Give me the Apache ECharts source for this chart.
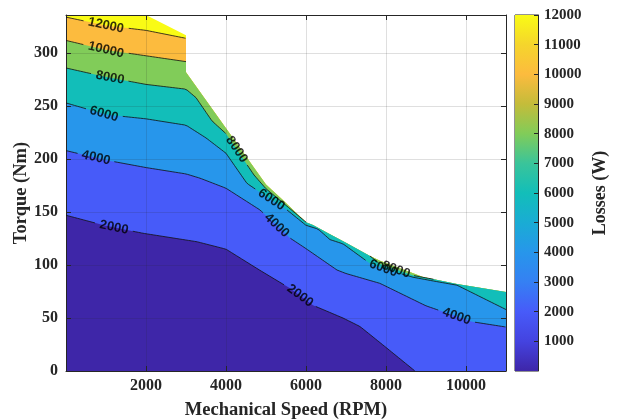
<!DOCTYPE html>
<html><head><meta charset="utf-8">
<script src="https://cdn.jsdelivr.net/npm/echarts@6/dist/echarts.min.js"></script>
<style>html,body{margin:0;padding:0;background:#fff}#c{width:621px;height:419px}</style>
</head><body><div id="c"></div>
<script>
// ---------- data ----------
const xMin = 0, xMax = 11000, xStep = 2000;
const yMin = 0, yMax = 336, yStep = 50;
const cbMin = 0, cbMax = 12000, cbStep = 1000;
const xName = 'Mechanical Speed (RPM)';
const yName = 'Torque (Nm)';
const cbName = 'Losses (W)';

// outer boundary of the data (max torque envelope)
const envelope = [[0,336],[2000,336],[3000,317],[3000,282],[4000,229],[5000,176],[5400,162],[6000,140.5],[6175,137.7],[6600,129],[7000,121],[7600,108.5],[7850,104],[8925,88.7],[9775,82],[11000,74.5]];

// contour lines (speed, torque)
const c12000 = [[0,334],[1000,326],[2000,321.5],[3000,314]];
const c10000 = [[0,312],[1000,303],[2000,297.5],[3000,292]];
const c8000a = [[0,286],[1000,277.5],[2000,270.5],[3000,266],[3250,258],[3650,236],[4000,224],[4700,185],[5000,172],[5400,159.5],[6000,140.5]];
const c8000b = [[7600,108.5],[7850,101],[8300,95],[8700,90],[9200,86.5]];
const c6000 = [[0,253],[1000,242],[2000,238],[3000,232],[3500,220],[4000,205.5],[4525,177],[5000,165],[5525,152],[6000,137.5],[6300,134],[6600,124],[6925,120],[7600,101.5],[8000,96],[8675,88.5],[9175,85],[9775,81],[11000,58]];
const c4000 = [[0,208],[1000,199],[2000,192],[3000,186],[3350,182],[4000,172.5],[4850,152],[5600,125.5],[6000,115.5],[6775,95.3],[7000,92],[7850,82.7],[9000,61.5],[10150,46.5],[11000,41.5]];
const c2000 = [[0,147],[1000,137],[1925,130],[3275,122],[4000,115],[4850,95],[5600,78],[6175,62],[6925,50],[7350,42],[7975,23],[8725,0]];

const levels = [2000, 4000, 6000, 8000, 10000, 12000];
const levelSegments = [[c2000],[c4000],[c6000],[c8000a,c8000b],[c10000],[c12000]];

// inline contour labels: level and speed position
const labelLevel = [12000,10000,8000,6000,4000,2000,8000,6000,4000,2000,6000,8000,4000];
const labelX     = [1000,1000,1100,950,750,1200,4267,5133,5267,5850,7933,8250,9767];

// ---------- styles ----------
const bandColors = ['#3e26a8','#475bf9','#2796eb','#12beb9','#81cc59','#fcbb3e','#f9fb15'];
const parulaStops = [
  [0,'#3e26a8'],[0.0833,'#4443e0'],[0.1667,'#475bf9'],[0.25,'#3580f3'],[0.3333,'#2796eb'],
  [0.4167,'#1aacd4'],[0.5,'#12beb9'],[0.5833,'#3ac49a'],[0.6667,'#81cc59'],[0.75,'#c4bc3a'],
  [0.8333,'#fcbb3e'],[0.9167,'#f5d52c'],[1,'#f9fb15']];
const axisColor = '#262626';
const serif = 'Liberation Serif';

// ---------- build fill boundaries ----------
function after(e, p){ return e[0] > p[0] || (e[0] === p[0] && e[1] < p[1]); }
function before(e, q){ return e[0] < q[0] || (e[0] === q[0] && e[1] > q[1]); }
function envSlice(p, q){ return envelope.filter(e => after(e, p) && (q == null || before(e, q))); }
function buildBoundary(segs){
  let pts = [], prev = null;
  segs.forEach(seg => {
    if (prev) pts = pts.concat(envSlice(prev, seg[0]));
    pts = pts.concat(seg);
    prev = seg[seg.length-1];
  });
  if (prev[1] <= yMin) pts.push([xMax, yMin]);
  else pts = pts.concat(envSlice(prev, null));
  return pts;
}

const chart = echarts.init(document.getElementById('c'));

function axisCommon(){
  return {
    min: xMin, max: xMax, interval: xStep, type: 'value', z: 3,
    axisLine: {show: true, onZero: false, lineStyle: {color: axisColor, width: 1}},
    axisTick: {show: true, inside: true, length: 5, lineStyle: {color: axisColor}},
  };
}

function buildOption(extraSeries){
  const fills = [];
  fills.push({type:'line', data: envelope, showSymbol:false, symbol:'none', lineStyle:{width:0},
    areaStyle:{color: bandColors[6], opacity:1}, z:2, silent:true, animation:false, xAxisIndex:0, yAxisIndex:0});
  for (let k = levels.length-1; k >= 0; k--){
    fills.push({type:'line', data: buildBoundary(levelSegments[k]), showSymbol:false, symbol:'none', lineStyle:{width:0},
      areaStyle:{color: bandColors[k], opacity:1}, z:2, silent:true, animation:false, xAxisIndex:0, yAxisIndex:0});
  }
  const cbColor = new echarts.graphic.LinearGradient(0,1,0,0, parulaStops.map(s => ({offset:s[0], color:s[1]})));
  return {
    animation: false,
    grid: [
      {left: 66, top: 15, width: 440, height: 356, containLabel: false, outerBoundsMode: 'none'},
      {left: 515, top: 15, width: 23, height: 356, show: true, borderColor: axisColor, borderWidth: 1,
        containLabel: false, outerBoundsMode: 'none'}
    ],
    xAxis: [
      Object.assign(axisCommon(), {gridIndex:0, position:'bottom',
        axisLabel:{fontFamily: serif, fontWeight:'bold', fontSize:16, color: axisColor, margin:7,
          formatter: v => (v > xMin && v % xStep === 0) ? String(v) : ''},
        splitLine:{show:true, lineStyle:{color:'rgba(38,38,38,0.15)', width:1}},
        name: xName, nameLocation:'middle', nameGap: 30,
        nameTextStyle:{fontFamily: serif, fontWeight:'bold', fontSize:18.5, color: axisColor}}),
      Object.assign(axisCommon(), {gridIndex:0, position:'top', axisLabel:{show:false}, splitLine:{show:false}}),
      {gridIndex:1, type:'category', data:[''], show:false, boundaryGap:true}
    ],
    yAxis: [
      {gridIndex:0, type:'value', min:yMin, max:yMax, interval:yStep, position:'left', z:3,
        axisLine:{show:true, onZero:false, lineStyle:{color:axisColor, width:1}},
        axisTick:{show:true, inside:true, length:5, lineStyle:{color:axisColor}},
        axisLabel:{fontFamily: serif, fontWeight:'bold', fontSize:16, color: axisColor, margin:8,
          formatter: v => (v % yStep === 0) ? String(v) : ''},
        splitLine:{show:true, lineStyle:{color:'rgba(38,38,38,0.15)', width:1}},
        name: yName, nameLocation:'middle', nameGap: 35, nameRotate: 90, nameMoveOverlap: false,
        nameTextStyle:{fontFamily: serif, fontWeight:'bold', fontSize:18.5, color: axisColor}},
      {gridIndex:0, type:'value', min:yMin, max:yMax, interval:yStep, position:'right', z:3,
        axisLine:{show:true, onZero:false, lineStyle:{color:axisColor, width:1}},
        axisTick:{show:true, inside:true, length:5, lineStyle:{color:axisColor}},
        axisLabel:{show:false}, splitLine:{show:false}},
      {gridIndex:1, type:'value', min:cbMin, max:cbMax, interval:cbStep, position:'right', z:3,
        axisLine:{show:true, lineStyle:{color:axisColor, width:1}},
        axisTick:{show:true, inside:true, length:4, lineStyle:{color:axisColor}},
        axisLabel:{fontFamily: serif, fontWeight:'bold', fontSize:15, color: axisColor, margin:6, showMinLabel:false,
          formatter: v => String(v)},
        splitLine:{show:false},
        name: cbName, nameLocation:'middle', nameGap: 53, nameRotate: 90,
        nameTextStyle:{fontFamily: serif, fontWeight:'bold', fontSize:18, color: axisColor}}
    ],
    series: fills.concat([
      {type:'bar', xAxisIndex:2, yAxisIndex:2, data:[cbMax], barWidth:'100%', silent:true,
        itemStyle:{color: cbColor}, z:1}
    ]).concat(extraSeries || [])
  };
}

chart.setOption(buildOption([]));

// ---------- contour lines with label gaps, labels rotated along the line ----------
const toPx = p => chart.convertToPixel({gridIndex:0}, p);
const fromPx = p => chart.convertFromPixel({gridIndex:0}, p);

function locate(segs, x){
  for (const seg of segs){
    for (let i = 0; i < seg.length-1; i++){
      const a = seg[i], b = seg[i+1];
      if (x >= a[0] && x <= b[0] && b[0] > a[0]){
        const t = (x - a[0]) / (b[0] - a[0]);
        return {y: a[1] + t*(b[1]-a[1]), a, b};
      }
    }
  }
  return null;
}

const labelItems = [];
const labelCircles = {}; // level -> [{c, r}]
labelLevel.forEach((lev, i) => {
  const k = levels.indexOf(lev);
  const loc = locate(levelSegments[k], labelX[i]);
  if (!loc) return;
  const pa = toPx(loc.a), pb = toPx(loc.b);
  let ang = Math.atan2(pb[1]-pa[1], pb[0]-pa[0]) * 180 / Math.PI;
  if (ang > 90) ang -= 180; if (ang < -90) ang += 180;
  const c = toPx([labelX[i], loc.y]);
  const r = String(lev).length * 3.8 + 3.5;
  (labelCircles[lev] = labelCircles[lev] || []).push({c, r});
  labelItems.push({value:[labelX[i], loc.y], label:{rotate: -ang, formatter: String(lev)}});
});

function cutLine(poly, circles){
  const px = poly.map(toPx);
  const runs = []; let cur = [];
  const inside = p => circles.some(o => Math.hypot(p[0]-o.c[0], p[1]-o.c[1]) < o.r);
  for (let i = 0; i < px.length-1; i++){
    const a = px[i], b = px[i+1];
    const L = Math.hypot(b[0]-a[0], b[1]-a[1]);
    const n = Math.max(1, Math.ceil(L / 0.5));
    for (let s = (i === 0 ? 0 : 1); s <= n; s++){
      const t = s / n;
      const p = [a[0] + (b[0]-a[0])*t, a[1] + (b[1]-a[1])*t];
      if (inside(p)) { if (cur.length > 1) runs.push(cur); cur = []; }
      else cur.push(p);
    }
  }
  if (cur.length > 1) runs.push(cur);
  return runs.map(r => r.map(fromPx));
}

const lineSeries = [];
levels.forEach((lev, k) => {
  levelSegments[k].forEach(seg => {
    cutLine(seg, labelCircles[lev] || []).forEach(run => {
      lineSeries.push({type:'line', data: run, showSymbol:false, symbol:'none', silent:true,
        lineStyle:{color:'#111', width:0.8}, z:4, animation:false, xAxisIndex:0, yAxisIndex:0});
    });
  });
});

const labelSeries = {type:'scatter', data: labelItems, symbolSize: 1, silent:true, z:5,
  itemStyle:{color:'rgba(0,0,0,0)'}, xAxisIndex:0, yAxisIndex:0,
  label:{show:true, position:'inside', fontFamily:'Liberation Sans', fontWeight:700, fontSize:13, color:'#000'}};

chart.setOption(buildOption(lineSeries.concat([labelSeries])), true);
</script>
</body></html>
